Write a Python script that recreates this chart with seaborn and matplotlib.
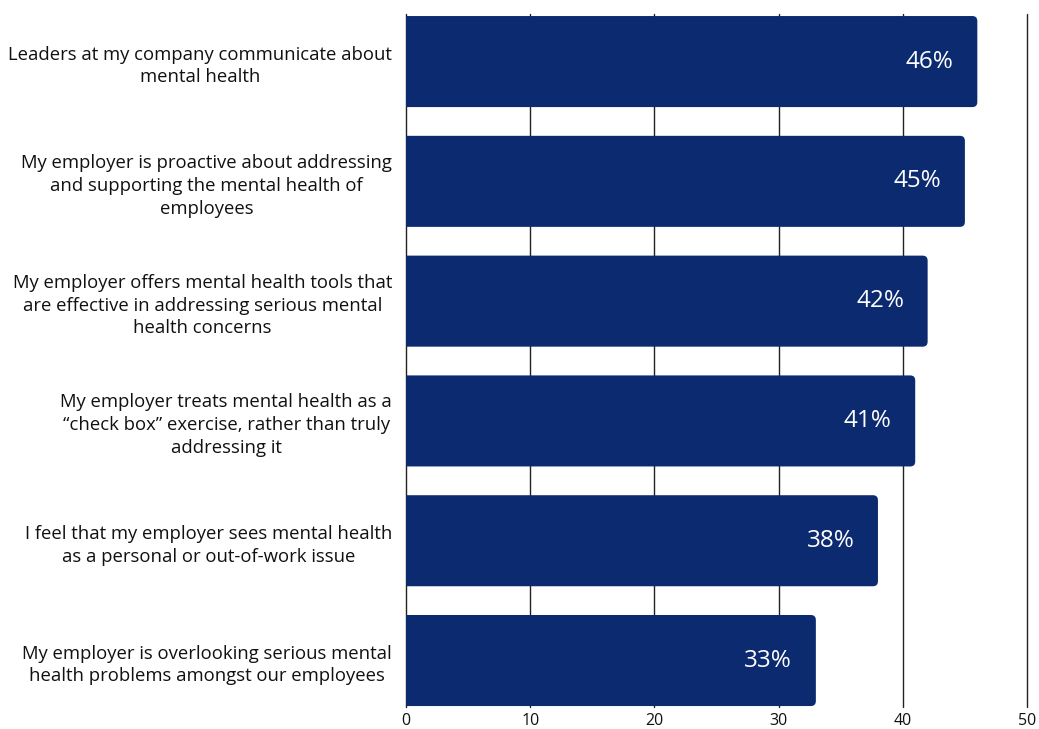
import matplotlib
matplotlib.use("Agg")
import matplotlib.pyplot as plt
from matplotlib.patches import FancyBboxPatch
import seaborn as sns
import pandas as pd

categories = [
    "Leaders at my company communicate about\nmental health",
    "My employer is proactive about addressing\nand supporting the mental health of\nemployees",
    "My employer offers mental health tools that\nare effective in addressing serious mental\nhealth concerns",
    "My employer treats mental health as a\n\u201ccheck box\u201d exercise, rather than truly\naddressing it",
    "I feel that my employer sees mental health\nas a personal or out-of-work issue",
    "My employer is overlooking serious mental\nhealth problems amongst our employees",
]
values = [46, 45, 42, 41, 38, 33]
x_ticks = [0, 10, 20, 30, 40, 50]

BAR_COLOR = "#0c2a70"

sns.set_theme(style="white")
plt.rcParams["font.family"] = ["Open Sans", "DejaVu Sans"]

df = pd.DataFrame({"cat": categories, "val": values})

fig = plt.figure(figsize=(10.39, 7.29), dpi=100)
ax = fig.add_axes([406 / 1039, 1 - 707 / 729, (1027 - 406) / 1039, (707 - 14) / 729])

sns.barplot(data=df, y="cat", x="val", orient="h", color=BAR_COLOR,
            width=0.76, saturation=1, ax=ax, zorder=3)

ax.set_xlim(0, 50)
ax.set_ylim(5.388, -0.397)

# Replace rectangles with rounded bars
px_x = (1027 - 406) / 50.0
px_y = 119.8
radius_px = 5
for p in list(ax.patches):
    x0, y0 = p.get_x(), p.get_y()
    w, h = p.get_width(), p.get_height()
    rs = radius_px / px_x
    fb = FancyBboxPatch((x0 - 2, y0), w + 2, h,
                        boxstyle=f"round,pad=0,rounding_size={rs}",
                        mutation_aspect=(px_x / px_y),
                        facecolor=BAR_COLOR, edgecolor="none", zorder=3)
    p.remove()
    ax.add_patch(fb)

for i, v in enumerate(values):
    ax.text(v - 1.9, i, f"{v}%", ha="right", va="center", color="white",
            fontsize=17.5, zorder=4)

ax.set_xticks(x_ticks)
ax.set_xticklabels([str(t) for t in x_ticks], fontsize=11.5, color="#111111")
ax.tick_params(axis="x", length=0, pad=4)
ax.tick_params(axis="y", length=0, pad=10)
for lbl in ax.get_yticklabels():
    lbl.set_fontsize(13.3)
    lbl.set_multialignment("center")
    lbl.set_linespacing(1.35)
    lbl.set_color("#111111")

ax.grid(axis="x", color="#222222", linewidth=1.0, zorder=0)
for gl in ax.get_xgridlines():
    gl.set_clip_on(False)
ax.grid(axis="y", visible=False)
ax.set_axisbelow(True)
for s in ax.spines.values():
    s.set_visible(False)
ax.set_xlabel("")
ax.set_ylabel("")

fig.savefig("out.png", dpi=100)
